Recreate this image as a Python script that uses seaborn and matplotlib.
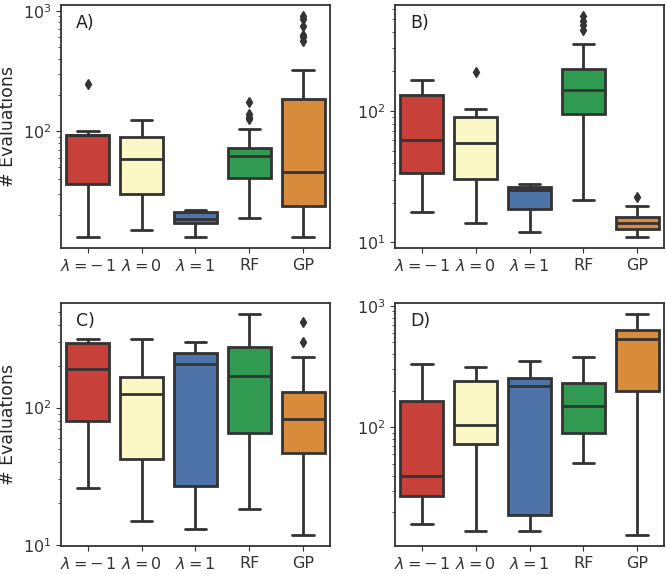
import pandas as pd
import seaborn as sns
import matplotlib.pyplot as plt

methods = ["l-1", "l0", "l1", "RF", "GP"]
tick_labels = [r"$\lambda=-\,1$", r"$\lambda=0$", r"$\lambda=1$", "RF", "GP"]
colors = ["#c8403a", "#fbf8c6", "#4e73a9", "#2f9a50", "#d88b3a"]

# five-number summaries: (low whisker, Q1, median, Q3, high whisker)
a_box = [(13.2, 36.5, 92, 92, 100), (15.1, 29.8, 59.2, 89.8, 124),
         (13.2, 17.1, 18.8, 21.2, 22.3), (19.0, 40.8, 62.3, 73, 104.5),
         (13.2, 23.9, 45.5, 185, 321)]
a_fliers = [[245], [], [], [125, 130, 140, 174], [565, 600, 625, 740, 860, 900]]

b_box = [(16.9, 33.9, 59.7, 132, 173), (14.0, 30.2, 57.4, 90.2, 104),
         (12.0, 18.0, 24.9, 26.3, 28.0), (21.0, 94.4, 143.5, 207, 323),
         (11.0, 12.6, 14.0, 15.5, 19.0)]
b_fliers = [[], [199], [], [410, 450, 480, 525], [22.3]]

c_box = [(25.8, 79.3, 190, 297, 315), (15.0, 42.1, 126, 167, 315),
         (13.0, 26.6, 209, 249, 302), (18.1, 65.0, 169, 278, 482),
         (11.8, 46.7, 82.4, 129, 233)]
c_fliers = [[], [], [], [], [300, 418]]

d_box = [(16.1, 27.1, 40.1, 164, 335), (14.0, 73.6, 105, 242, 316),
         (14.0, 19.2, 221, 257, 351), (50.6, 89.3, 150, 233, 382),
         (13.1, 199, 532, 637, 855)]
d_fliers = [[], [], [], [], []]


def sample(stats, fliers):
    # arrange the read values so the box quantiles land on them exactly
    lo, q1, med, q3, hi = stats
    m = len(fliers) + 1
    return [lo] + [q1] * m + [med] * m + [q3] * m + [hi] + list(fliers)


def to_frame(boxes, fliers):
    rows = []
    for name, st, fl in zip(methods, boxes, fliers):
        for v in sample(st, fl):
            rows.append({"method": name, "evals": v})
    return pd.DataFrame(rows)


sns.set_style("ticks")
plt.rcParams["font.family"] = ["DejaVu Sans"]
plt.rcParams["axes.edgecolor"] = "#333333"
plt.rcParams["xtick.color"] = "#333333"
plt.rcParams["ytick.color"] = "#333333"

fig, axes = plt.subplots(2, 2, figsize=(6.66, 5.74), dpi=100)
fig.subplots_adjust(left=0.0916, right=0.997, top=0.991, bottom=0.049,
                    wspace=0.242, hspace=0.226)

panels = [(a_box, a_fliers, "A)"), (b_box, b_fliers, "B)"),
          (c_box, c_fliers, "C)"), (d_box, d_fliers, "D)")]

for ax, (boxes, fliers, label) in zip(axes.flat, panels):
    df = to_frame(boxes, fliers)
    sns.boxplot(data=df, x="method", y="evals", hue="method", order=methods,
                hue_order=methods, palette=colors, saturation=1, legend=False,
                ax=ax, width=0.8, linewidth=2, linecolor="#333333",
                flierprops=dict(marker="d", markersize=5,
                                markerfacecolor="#333333",
                                markeredgecolor="#333333"))
    ax.set_yscale("log")
    ax.set_xticks(range(5))
    ax.set_xticklabels(tick_labels, fontsize=11.5)
    ax.tick_params(axis="y", labelsize=11.5)
    ax.set_xlabel("")
    ax.set_ylabel("")
    for s in ax.spines.values():
        s.set_linewidth(1.3)
    ax.text(0.056, 0.925, label, transform=ax.transAxes, fontsize=12.5,
            va="center", ha="left", color="#222222")

axes[0, 0].set_ylabel("# Evaluations", fontsize=12.5)
axes[1, 0].set_ylabel("# Evaluations", fontsize=12.5)

fig.savefig("out.png", dpi=100)
